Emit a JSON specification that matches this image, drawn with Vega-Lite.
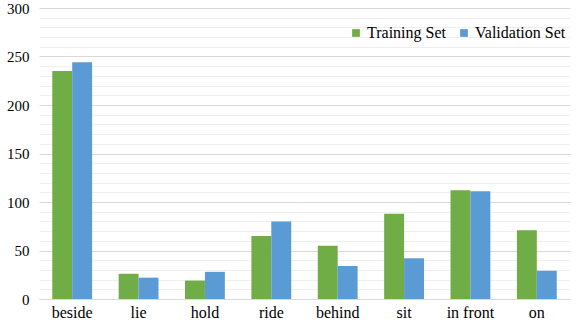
{
  "$schema": "https://vega.github.io/schema/vega-lite/v6.json",
  "autosize": "none",
  "width": 531,
  "height": 291,
  "padding": {"left": 39, "top": 8, "right": 11, "bottom": 29},
  "background": "white",
  "config": {
    "font": "Liberation Serif",
    "view": {"stroke": null}
  },
  "data": {
    "values": [
      {"relation": "beside", "set": "Training Set", "count": 235},
      {"relation": "beside", "set": "Validation Set", "count": 244},
      {"relation": "lie", "set": "Training Set", "count": 26},
      {"relation": "lie", "set": "Validation Set", "count": 22},
      {"relation": "hold", "set": "Training Set", "count": 19},
      {"relation": "hold", "set": "Validation Set", "count": 28},
      {"relation": "ride", "set": "Training Set", "count": 65},
      {"relation": "ride", "set": "Validation Set", "count": 80},
      {"relation": "behind", "set": "Training Set", "count": 55},
      {"relation": "behind", "set": "Validation Set", "count": 34},
      {"relation": "sit", "set": "Training Set", "count": 88},
      {"relation": "sit", "set": "Validation Set", "count": 42},
      {"relation": "in front", "set": "Training Set", "count": 112},
      {"relation": "in front", "set": "Validation Set", "count": 111},
      {"relation": "on", "set": "Training Set", "count": 71},
      {"relation": "on", "set": "Validation Set", "count": 29}
    ]
  },
  "mark": {"type": "bar"},
  "encoding": {
    "x": {
      "field": "relation",
      "type": "nominal",
      "sort": null,
      "scale": {"paddingInner": 0.4, "paddingOuter": 0.2},
      "axis": {
        "title": null,
        "labelAngle": 0,
        "labelFont": "Liberation Serif",
        "labelFontSize": 16,
        "labelColor": "#000000",
        "labelPadding": 5,
        "ticks": false,
        "domain": true,
        "domainColor": "#d9d9d9",
        "grid": false
      }
    },
    "xOffset": {"field": "set", "type": "nominal", "scale": {"paddingInner": 0}},
    "y": {
      "field": "count",
      "type": "quantitative",
      "scale": {"domain": [0, 300], "nice": false},
      "axis": {
        "title": null,
        "values": [0, 10, 20, 30, 40, 50, 60, 70, 80, 90, 100, 110, 120, 130, 140, 150, 160, 170, 180, 190, 200, 210, 220, 230, 240, 250, 260, 270, 280, 290, 300],
        "labelExpr": "datum.value % 50 === 0 ? datum.label : ''",
        "labelFont": "Liberation Serif",
        "labelFontSize": 15,
        "labelColor": "#000000",
        "labelPadding": 10,
        "ticks": false,
        "domain": false,
        "grid": true,
        "gridColor": {"condition": {"test": "datum.value % 50 === 0", "value": "#d9d9d9"}, "value": "#efefef"},
        "gridWidth": 1
      }
    },
    "color": {
      "field": "set",
      "type": "nominal",
      "scale": {"domain": ["Training Set", "Validation Set"], "range": ["#70ad47", "#5b9bd5"]},
      "legend": {
        "title": null,
        "orient": "none",
        "legendX": 309,
        "legendY": 17,
        "direction": "horizontal",
        "symbolType": "square",
        "symbolSize": 60,
        "symbolStrokeWidth": 0,
        "labelFont": "Liberation Serif",
        "labelFontSize": 16,
        "labelColor": "#000000",
        "columnPadding": 10,
        "labelOffset": 3
      }
    }
  }
}
